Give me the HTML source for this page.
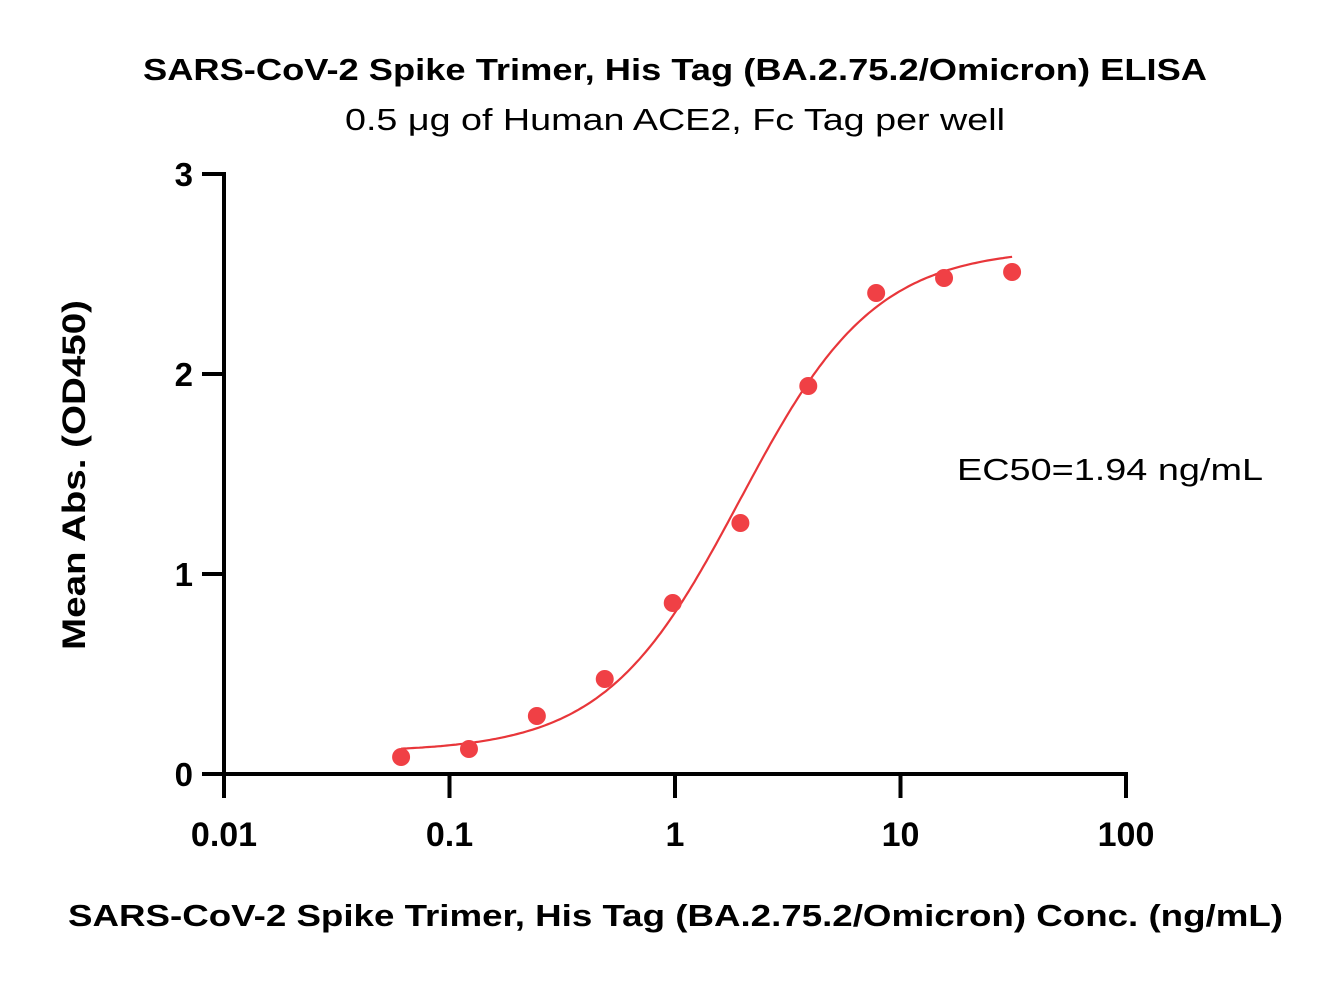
<!DOCTYPE html>
<html><head><meta charset="utf-8"><style>
body{margin:0;background:#fff}
svg text{font-family:"Liberation Sans",sans-serif}
</style></head><body>
<svg width="1327" height="979" xmlns="http://www.w3.org/2000/svg">
<text x="143" y="80" textLength="1064" lengthAdjust="spacingAndGlyphs" font-size="31" font-weight="bold">SARS-CoV-2 Spike Trimer, His Tag (BA.2.75.2/Omicron) ELISA</text>
<text x="345" y="130" textLength="660" lengthAdjust="spacingAndGlyphs" font-size="31">0.5 μg of Human ACE2, Fc Tag per well</text>
<text x="957" y="480" textLength="306" lengthAdjust="spacingAndGlyphs" font-size="31">EC50=1.94 ng/mL</text>
<text transform="translate(85,650) rotate(-90)" textLength="350" lengthAdjust="spacingAndGlyphs" font-size="32" font-weight="bold">Mean Abs. (OD450)</text>
<text x="68" y="926" textLength="1215" lengthAdjust="spacingAndGlyphs" font-size="31" font-weight="bold">SARS-CoV-2 Spike Trimer, His Tag (BA.2.75.2/Omicron) Conc. (ng/mL)</text>
<g id="axes"></g><g id="curve"></g><g id="pts"></g>
</svg>
<script>
const xVals=[0.061,0.122,0.244,0.488,0.977,1.95,3.9,7.8,15.6,31.25];
const yVals=[0.085,0.125,0.29,0.475,0.855,1.255,1.94,2.405,2.48,2.51];
const xTicks=[0.01,0.1,1,10,100];
const xTickLabels=["0.01","0.1","1","10","100"];
const yTicks=[0,1,2,3];
const fitBottom=0.11, fitTop=2.63, fitEC50=1.94, fitHill=1.45;
const NS="http://www.w3.org/2000/svg";
const X=v=>224+(Math.log10(v)+2)*225.5;
const Y=v=>774-v*200;
function mk(t,a,p){const e=document.createElementNS(NS,t);for(const k in a)e.setAttribute(k,a[k]);p.appendChild(e);return e;}
const ax=document.getElementById('axes');
let l=mk('line',{x1:224,y1:Y(3)-2,x2:224,y2:776,stroke:'#000','stroke-width':4},ax);


l=mk('line',{x1:222,y1:774,x2:1128,y2:774,stroke:'#000','stroke-width':4},ax);


yTicks.forEach(v=>{
 const t=mk('line',{x1:202,y1:Y(v),x2:224,y2:Y(v),stroke:'#000','stroke-width':4},ax);
 
 
 const tx=mk('text',{x:193,y:Y(v)+12,'text-anchor':'end','font-size':33,'font-weight':'bold'},ax);
 tx.textContent=v;
 
 
});
xTicks.forEach((v,i)=>{
 const t=mk('line',{x1:X(v),y1:774,x2:X(v),y2:798,stroke:'#000','stroke-width':4},ax);
 
 
 const tx=mk('text',{x:X(v),y:846,'text-anchor':'middle','font-size':34,'font-weight':'bold'},ax);
 tx.textContent=xTickLabels[i];
 
 
});
let d='';const a=Math.log10(xVals[0]),b=Math.log10(xVals[xVals.length-1]);
for(let i=0;i<=200;i++){const lx=a+(b-a)*i/200,x=Math.pow(10,lx);
 const r=Math.pow(x/fitEC50,fitHill);const y=fitBottom+(fitTop-fitBottom)*r/(1+r);
 d+=(i?'L':'M')+X(x).toFixed(1)+' '+Y(y).toFixed(1);}
const c=mk('path',{d:d,fill:'none',stroke:'#e8363a','stroke-width':2.2},document.getElementById('curve'));


xVals.forEach((v,i)=>{
 const p=mk('circle',{cx:X(v),cy:Y(yVals[i]),r:9,fill:'#f04045'},document.getElementById('pts'));
 
 
});
</script>
</body></html>
